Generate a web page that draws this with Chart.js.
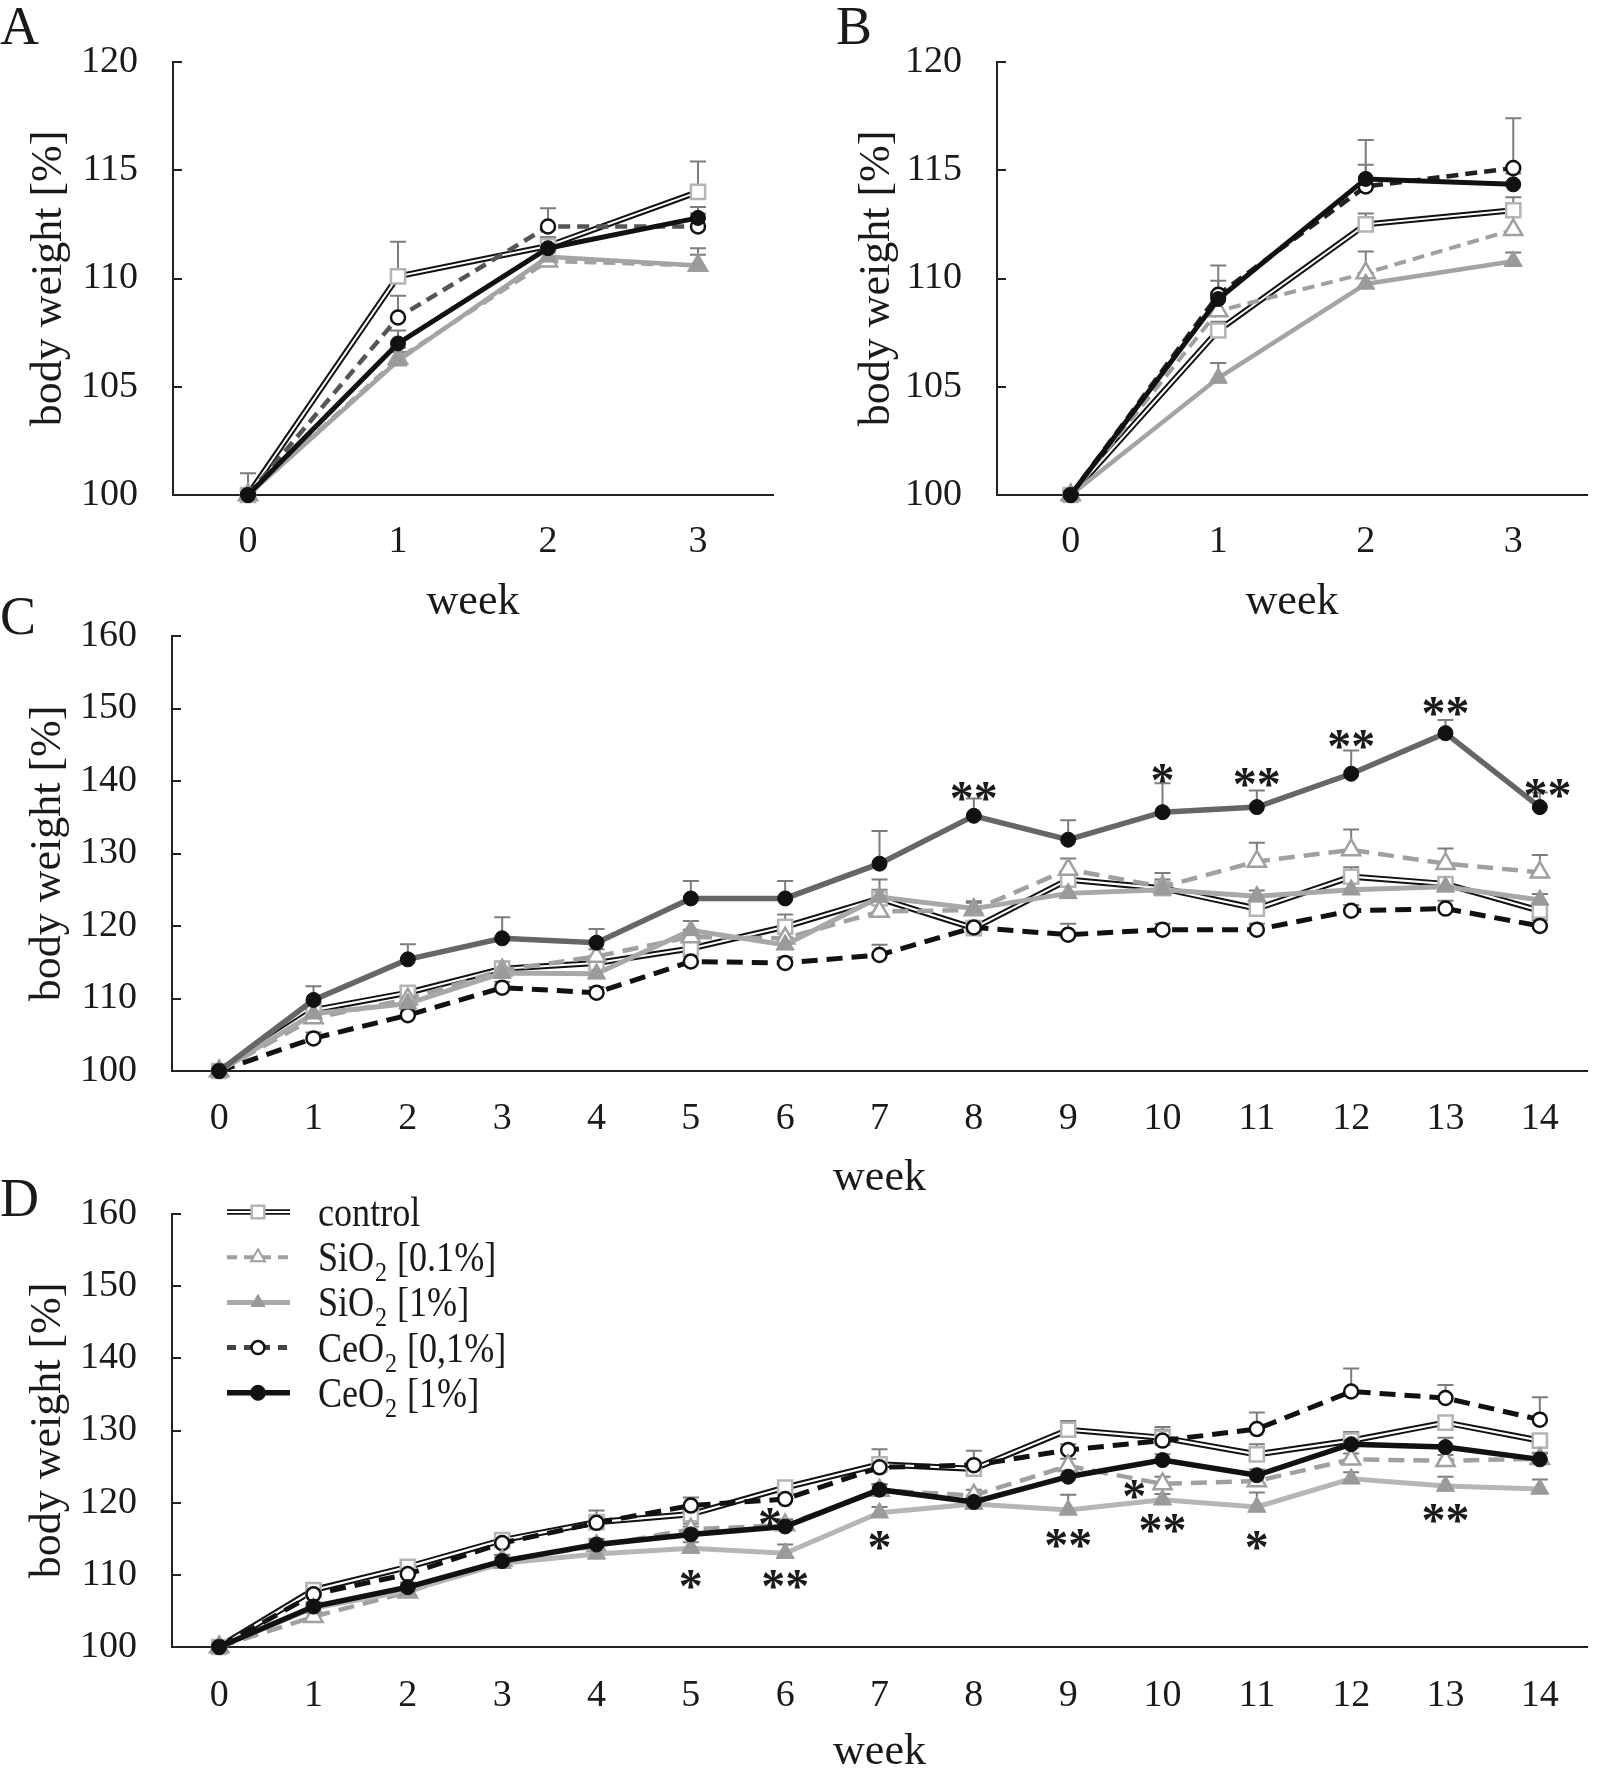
<!DOCTYPE html>
<html>
<head>
<meta charset="utf-8">
<title>body weight</title>
<script src="https://cdn.jsdelivr.net/npm/chart.js@4.4.1/dist/chart.umd.min.js"></script>
<style>
  html, body { margin: 0; padding: 0; background: #fff; }
  body { width: 1600px; height: 1776px; position: relative; overflow: hidden; }
  canvas { position: absolute; }
</style>
</head>
<body>
<canvas id="chartA" width="800" height="624" style="left:0;top:0"></canvas>
<canvas id="chartB" width="800" height="624" style="left:800px;top:0"></canvas>
<canvas id="chartC" width="1600" height="620" style="left:0;top:580px"></canvas>
<canvas id="chartD" width="1600" height="616" style="left:0;top:1160px"></canvas>
<script>
const FONT = "'Liberation Serif', 'Times New Roman', serif";
const INK = "#1a1a1a";

// weeks
const weeksShort = ["0", "1", "2", "3"];
const weeksLong = ["0", "1", "2", "3", "4", "5", "6", "7", "8", "9", "10", "11", "12", "13", "14"];

// Panel A
const ctrlA = [100, 110.1, 111.5, 114.0];
const si01A = [100, 106.3, 110.8, 110.6];
const si1A  = [100, 106.2, 111.0, 110.6];
const ce01A = [100, 108.2, 112.4, 112.4];
const ce1A  = [100, 107.0, 111.4, 112.8];
const ctrlErrA = [1.0, 1.6, 0.4, 1.4];
const si01ErrA = [0.3, 0.5, 0.4, 0.5];
const si1ErrA  = [0.3, 0.4, 0.3, 0.8];
const ce01ErrA = [0.2, 1.0, 0.85, 0.6];
const ce1ErrA  = [0.2, 0.6, 0.5, 0.5];

// Panel B
const ctrlB = [100, 107.6, 112.5, 113.15];
const si01B = [100, 108.5, 110.25, 112.25];
const si1B  = [100, 105.4, 109.75, 110.8];
const ce01B = [100, 109.25, 114.25, 115.1];
const ce1B  = [100, 109.05, 114.6, 114.35];
const ctrlErrB = [0.2, 0.4, 0.5, 0.6];
const si01ErrB = [0.2, 0.6, 1.0, 0.8];
const si1ErrB  = [0.2, 0.7, 0.5, 0.4];
const ce01ErrB = [0.2, 1.35, 1.0, 2.3];
const ce1ErrB  = [0.2, 0.85, 1.8, 0.5];

// Panel C
const ctrlC = [100, 108.4, 110.8, 114.1, 114.9, 116.9, 119.9, 123.8, 119.7, 126.4, 125.2, 122.4, 126.8, 125.8, 122.1];
const si01C = [100, 107.3, 109.9, 113.9, 115.8, 118.5, 118.3, 122.0, 122.2, 127.8, 125.4, 128.9, 130.5, 128.6, 127.4];
const si1C  = [100, 107.9, 109.3, 113.5, 113.4, 119.4, 117.4, 124.0, 122.4, 124.5, 125.0, 124.1, 125.0, 125.4, 123.6];
const ce01C = [100, 104.5, 107.7, 111.5, 110.8, 115.1, 114.9, 116.0, 119.8, 118.8, 119.5, 119.5, 122.1, 122.4, 120.0];
const ce1C  = [100, 109.8, 115.4, 118.3, 117.7, 123.8, 123.8, 128.6, 135.2, 131.9, 135.7, 136.4, 141.0, 146.6, 136.4];
const ctrlErrC = [0.2, 0.8, 0.8, 1.0, 0.8, 1.0, 1.7, 1.2, 0.8, 1.0, 1.2, 0.8, 1.3, 0.8, 0.8];
const si01ErrC = [0.2, 0.8, 0.8, 1.0, 1.0, 1.0, 1.0, 1.4, 1.0, 1.5, 1.9, 2.6, 2.8, 2.1, 2.4];
const si1ErrC  = [0.2, 0.8, 0.8, 1.0, 1.0, 1.3, 1.0, 2.4, 1.0, 1.0, 1.0, 0.8, 1.0, 0.8, 0.8];
const ce01ErrC = [0.2, 0.8, 0.8, 0.8, 0.8, 0.8, 0.8, 1.4, 0.8, 1.5, 0.8, 0.8, 0.8, 1.1, 0.8];
const ce1ErrC  = [0.2, 1.9, 2.1, 2.9, 1.9, 2.4, 2.4, 4.5, 2.4, 2.7, 4.0, 2.3, 3.2, 1.8, 2.0];
const starPosC = [8, 10, 11, 12, 13, 14.08];
const starValC = [138.8, 141.3, 140.7, 145.9, 150.5, 139.2];
const starTxtC = ["**", "*", "**", "**", "**", "**"];

// Panel D
const ctrlD = [100, 107.9, 111.1, 114.8, 117.3, 118.4, 122.1, 125.3, 124.7, 130.1, 129.0, 126.7, 128.6, 131.1, 128.6];
const si01D = [100, 104.2, 107.6, 112.0, 114.0, 116.3, 116.9, 121.7, 121.0, 125.1, 122.6, 123.0, 126.0, 125.8, 126.1];
const si1D  = [100, 105.4, 107.8, 111.6, 112.9, 113.7, 113.0, 118.6, 119.8, 119.0, 120.4, 119.4, 123.3, 122.3, 121.9];
const ce01D = [100, 107.3, 110.1, 114.4, 117.2, 119.6, 120.5, 124.9, 125.2, 127.3, 128.6, 130.2, 135.4, 134.5, 131.5];
const ce1D  = [100, 105.6, 108.3, 111.9, 114.2, 115.6, 116.7, 121.8, 120.1, 123.6, 125.9, 123.8, 128.1, 127.7, 126.0];
const ctrlErrD = [0.3, 0.6, 0.6, 0.8, 1.6, 0.8, 0.6, 0.8, 0.8, 1.2, 1.5, 1.4, 1.2, 0.8, 0.8];
const si01ErrD = [0.3, 0.6, 0.6, 0.8, 0.8, 0.8, 0.8, 0.8, 0.8, 1.0, 1.0, 0.8, 0.8, 0.8, 0.8];
const si1ErrD  = [0.3, 0.6, 0.6, 0.8, 0.8, 0.8, 1.2, 0.8, 0.8, 2.1, 0.8, 2.0, 0.9, 1.3, 1.3];
const ce01ErrD = [0.3, 0.6, 0.6, 0.8, 0.8, 1.1, 0.8, 2.5, 2.0, 0.8, 1.5, 2.3, 3.2, 1.8, 3.1];
const ce1ErrD  = [0.3, 0.6, 0.6, 0.8, 0.8, 1.1, 0.8, 0.8, 0.8, 0.8, 0.8, 0.8, 0.8, 1.3, 0.8];
const starPosD = [5, 6, 5.84, 7, 9, 10, 9.7, 11, 13];
const starValD = [109.5, 109.5, 118.1, 115.0, 115.2, 117.3, 122.1, 115.0, 118.7];
const starTxtD = ["*", "**", "*", "*", "**", "**", "*", "*", "**"];

const seriesNames = ["control", "SiO2 [0.1%]", "SiO2 [1%]", "CeO2 [0,1%]", "CeO2 [1%]"];

// upward error bars, drawn under the lines
const errorBars = {
  id: "errorBars",
  beforeDatasetsDraw(chart) {
    const ctx = chart.ctx, y = chart.scales.y;
    ctx.save();
    ctx.strokeStyle = "#7d7d7d";
    ctx.lineWidth = 2;
    chart.data.datasets.forEach((ds, i) => {
      if (!ds.errors) return;
      chart.getDatasetMeta(i).data.forEach((pt, j) => {
        const top = y.getPixelForValue(ds.data[j] + ds.errors[j]);
        ctx.beginPath();
        ctx.moveTo(pt.x, pt.y);
        ctx.lineTo(pt.x, top);
        ctx.moveTo(pt.x - 8, top);
        ctx.lineTo(pt.x + 8, top);
        ctx.stroke();
      });
    });
    ctx.restore();
  }
};

// y ticks point into the plot
const innerTicks = {
  id: "innerTicks",
  beforeDatasetsDraw(chart) {
    const ctx = chart.ctx, y = chart.scales.y, left = chart.chartArea.left;
    ctx.save();
    ctx.strokeStyle = "#222";
    ctx.lineWidth = 2;
    y.ticks.forEach(t => {
      const py = Math.round(y.getPixelForValue(t.value));
      ctx.beginPath();
      ctx.moveTo(left, py);
      ctx.lineTo(left + 9, py);
      ctx.stroke();
    });
    ctx.restore();
  }
};

function letterPlugin(text, x, y) {
  return {
    id: "letter",
    afterDraw(chart) {
      const ctx = chart.ctx;
      ctx.save();
      ctx.fillStyle = INK;
      ctx.font = "54px " + FONT;
      ctx.textBaseline = "alphabetic";
      ctx.fillText(text, x, y);
      ctx.restore();
    }
  };
}

function starsPlugin(pos, vals, txt) {
  return {
    id: "stars",
    afterDatasetsDraw(chart) {
      const ctx = chart.ctx, xs = chart.scales.x, ys = chart.scales.y;
      ctx.save();
      ctx.fillStyle = INK;
      ctx.font = "bold 48px " + FONT;
      ctx.textAlign = "center";
      ctx.textBaseline = "alphabetic";
      pos.forEach((p, i) => {
        ctx.fillText(txt[i], xs.getPixelForValue(p), ys.getPixelForValue(vals[i]) + 24);
      });
      ctx.restore();
    }
  };
}

// legend drawn by hand so each key shows line + marker
const seriesKey = {
  id: "seriesKey",
  afterDraw(chart) {
    const ctx = chart.ctx;
    const draw = Chart.helpers.drawPoint;
    const x0 = 227, x1 = 290, xm = 258, tx = 318;
    const keys = [
      { outer: "#111", color: "#fff", w: 2, dash: [], pt: "rect", r: 9, fill: "#fff", stroke: "#b4b4b4", pw: 2.5 },
      { color: "#a0a0a0", w: 4, dash: [10, 7], pt: "triangle", r: 8, fill: "#fff", stroke: "#a0a0a0", pw: 2 },
      { color: "#aaaaaa", w: 5, dash: [], pt: "triangle", r: 8, fill: "#999", stroke: "#999", pw: 1 },
      { color: "#444", w: 5, dash: [9, 8], pt: "circle", r: 6.5, fill: "#fff", stroke: "#111", pw: 2.5 },
      { color: "#111", w: 5.5, dash: [], pt: "circle", r: 7.5, fill: "#111", stroke: "#111", pw: 1 }
    ];
    ctx.save();
    seriesNames.forEach((name, i) => {
      const k = keys[i];
      const y = 52 + i * 45.2;
      if (k.outer) {
        ctx.setLineDash([]);
        ctx.strokeStyle = k.outer;
        ctx.lineWidth = 5.5;
        ctx.beginPath(); ctx.moveTo(x0, y); ctx.lineTo(x1, y); ctx.stroke();
      }
      ctx.setLineDash(k.dash);
      ctx.strokeStyle = k.color;
      ctx.lineWidth = k.w;
      ctx.beginPath(); ctx.moveTo(x0, y); ctx.lineTo(x1, y); ctx.stroke();
      ctx.setLineDash([]);
      ctx.fillStyle = k.fill;
      ctx.strokeStyle = k.stroke;
      ctx.lineWidth = k.pw;
      draw(ctx, { pointStyle: k.pt, radius: k.r, rotation: 0, borderWidth: k.pw }, xm, y);

      // text, with the subscript 2
      const m = name.match(/^(\w+?)(2)?( .*)?$/);
      ctx.save();
      ctx.translate(tx, y + 14);
      ctx.scale(0.86, 1);
      ctx.fillStyle = INK;
      ctx.textBaseline = "alphabetic";
      let cx = 0;
      ctx.font = "42px " + FONT;
      ctx.fillText(m[1], cx, 0);
      cx += ctx.measureText(m[1]).width;
      if (m[2]) {
        ctx.font = "28px " + FONT;
        ctx.fillText(m[2], cx + 1, 10);
        cx += ctx.measureText(m[2]).width + 2;
        ctx.font = "42px " + FONT;
        ctx.fillText(m[3], cx, 0);
      }
      ctx.restore();
    });
    ctx.restore();
  }
};

function buildSets(v, e, st) {
  const sets = [
    { label: seriesNames[4], data: v[4], errors: e[4], borderColor: st.ce1Line, borderWidth: st.w + 0.5,
      pointStyle: "circle", pointRadius: 7.5, pointBackgroundColor: "#111", pointBorderColor: "#111", pointBorderWidth: 1, order: 1 },
    { label: seriesNames[2], data: v[2], errors: e[2], borderColor: st.si1Line, borderWidth: st.w,
      pointStyle: "triangle", pointRadius: 10.5, pointBackgroundColor: "#9a9a9a", pointBorderColor: "#9a9a9a", pointBorderWidth: 1, order: 2 },
    { label: seriesNames[1], data: v[1], errors: e[1], borderColor: "#a0a0a0", borderWidth: st.w - 0.5, borderDash: st.dash,
      pointStyle: "triangle", pointRadius: 10.5, pointBackgroundColor: "#fff", pointBorderColor: "#a0a0a0", pointBorderWidth: 2.5, order: 3 },
    { label: seriesNames[3], data: v[3], errors: e[3], borderColor: st.ce01Line, borderWidth: st.w, borderDash: st.dash,
      pointStyle: "circle", pointRadius: 7, pointBackgroundColor: "#fff", pointBorderColor: "#111", pointBorderWidth: 2.5, order: 4 },
    { label: seriesNames[0], data: v[0], borderColor: "#fff", borderWidth: st.inner,
      pointStyle: "rect", pointRadius: 10, pointBackgroundColor: "#fff", pointBorderColor: "#b4b4b4", pointBorderWidth: 2.5, order: 5 },
    { label: seriesNames[0], data: v[0], errors: e[0], borderColor: "#111", borderWidth: st.inner + 4,
      pointRadius: 0, order: 6 }
  ];
  return sets.map(d => Object.assign({ fill: false, tension: 0, clip: false, pointHoverRadius: d.pointRadius }, d));
}

function makeChart(id, labels, sets, cfg, extra) {
  return new Chart(document.getElementById(id), {
    type: "line",
    data: { labels: labels, datasets: sets },
    options: {
      responsive: false,
      animation: false,
      devicePixelRatio: 1,
      events: [],
      layout: { padding: cfg.pad },
      plugins: { legend: { display: false }, tooltip: { enabled: false } },
      scales: {
        x: {
          type: "category",
          offset: true,
          grid: { display: false, drawTicks: false },
          border: { display: true, color: "#222", width: 2 },
          ticks: { color: INK, font: { family: FONT, size: 38, lineHeight: 1 }, padding: cfg.xPad, autoSkip: false, maxRotation: 0 },
          title: { display: true, text: "week", color: INK, font: { family: FONT, size: 44, lineHeight: 1 }, padding: { top: 0, bottom: cfg.xTitlePad } },
          afterFit: s => { s.height = cfg.xH; }
        },
        y: {
          min: cfg.min,
          max: cfg.max,
          grid: { display: false, drawTicks: false },
          border: { display: true, color: "#222", width: 2 },
          ticks: { stepSize: cfg.step, color: INK, font: { family: FONT, size: 38, lineHeight: 1 }, padding: 35 },
          title: { display: true, text: "body weight [%]", color: INK, font: { family: FONT, size: 44, lineHeight: 1 }, padding: { top: cfg.yTitlePad, bottom: 0 } },
          afterFit: s => { s.width = cfg.yW; }
        }
      }
    },
    plugins: [errorBars, innerTicks].concat(extra)
  });
}

const styleAB = { w: 4.5, inner: 2, dash: [12, 7], si1Line: "#a4a4a4", ce1Line: "#111" };

makeChart("chartA", weeksShort,
  buildSets([ctrlA, si01A, si1A, ce01A, ce1A], [ctrlErrA, si01ErrA, si1ErrA, ce01ErrA, ce1ErrA],
    Object.assign({}, styleAB, { ce01Line: "#555" })),
  { pad: { left: 0, top: 62, right: 27, bottom: 0 }, xH: 129, yW: 173, xPad: 28, xTitlePad: 0, yTitlePad: 27, min: 100, max: 120, step: 5 },
  [letterPlugin("A", 0, 44)]);

makeChart("chartB", weeksShort,
  buildSets([ctrlB, si01B, si1B, ce01B, ce1B], [ctrlErrB, si01ErrB, si1ErrB, ce01ErrB, ce1ErrB],
    Object.assign({}, styleAB, { ce01Line: "#222" })),
  { pad: { left: 0, top: 62, right: 6, bottom: 0 }, xH: 129, yW: 197, xPad: 28, xTitlePad: 0, yTitlePad: 55, min: 100, max: 120, step: 5 },
  [letterPlugin("B", 36, 44)]);

makeChart("chartC", weeksLong,
  buildSets([ctrlC, si01C, si1C, ce01C, ce1C], [ctrlErrC, si01ErrC, si1ErrC, ce01ErrC, ce1ErrC],
    { w: 5, inner: 2.2, dash: [16, 9], si1Line: "#a8a8a8", ce1Line: "#666", ce01Line: "#111" }),
  { pad: { left: 0, top: 56, right: 6, bottom: 0 }, xH: 129, yW: 172, xPad: 29, xTitlePad: 0, yTitlePad: 26, min: 100, max: 160, step: 10 },
  [letterPlugin("C", 0, 54), starsPlugin(starPosC, starValC, starTxtC)]);

makeChart("chartD", weeksLong,
  buildSets([ctrlD, si01D, si1D, ce01D, ce1D], [ctrlErrD, si01ErrD, si1ErrD, ce01ErrD, ce1ErrD],
    { w: 5, inner: 2.2, dash: [16, 9], si1Line: "#b6b6b6", ce1Line: "#111", ce01Line: "#111" }),
  { pad: { left: 0, top: 52, right: 6, bottom: 1 }, xH: 128, yW: 172, xPad: 30, xTitlePad: 1, yTitlePad: 26, min: 100, max: 160, step: 10 },
  [letterPlugin("D", 0, 56), starsPlugin(starPosD, starValD, starTxtD), seriesKey]);
</script>
</body>
</html>
